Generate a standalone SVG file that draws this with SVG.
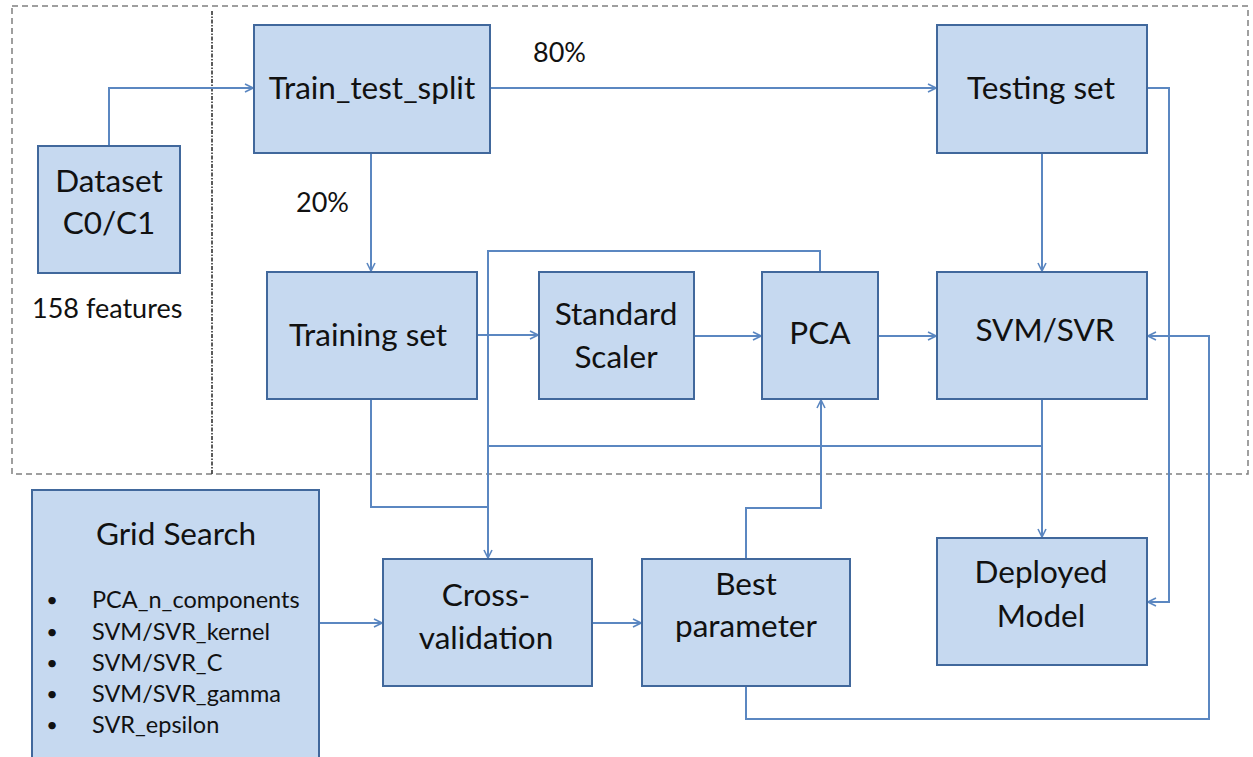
<svg xmlns="http://www.w3.org/2000/svg" width="1253" height="757" viewBox="0 0 1253 757">
  <style>
    .box { fill: #c6d9f0; stroke: #41689c; stroke-width: 2; }
    .lbl { font-family: Lato, "Liberation Sans", sans-serif; font-size: 31.5px; fill: #111; text-anchor: middle; }
    .sm { font-family: Lato, "Liberation Sans", sans-serif; font-size: 27px; fill: #111; }
    .item { font-family: Lato, "Liberation Sans", sans-serif; font-size: 23.5px; fill: #111; }
    .dot { font-family: Lato, "Liberation Sans", sans-serif; font-size: 20px; fill: #111; text-anchor: middle; }
    .wire { fill: none; stroke: #5b87c1; stroke-width: 2; }
    .arr { marker-end: url(#head); }
  </style>
  <defs>
    <marker id="head" viewBox="0 0 10 10" refX="9" refY="5" markerWidth="10" markerHeight="10" markerUnits="userSpaceOnUse" orient="auto">
      <path d="M1,1 L9,5 L1,9" fill="none" stroke="#5b87c1" stroke-width="1.6"/>
    </marker>
  </defs>
  <rect width="1253" height="757" fill="#ffffff"/>

  <!-- frame of the preprocessing stage -->
  <g id="frame">
    <rect x="12" y="6" width="1236" height="468" fill="none" stroke="#808080" stroke-width="1.5" stroke-dasharray="6 4"/>
    <line x1="212" y1="11" x2="212" y2="474" stroke="#333333" stroke-width="1.6" stroke-dasharray="4 1.5 1.5 1.5"/>
  </g>

  <g id="connectors">
    <polyline class="wire arr" points="109,146 109,88 253,88"/>
    <line class="wire arr" x1="490" y1="88" x2="936" y2="88"/>
    <line class="wire arr" x1="371" y1="153" x2="371" y2="271"/>
    <line class="wire arr" x1="1042" y1="153" x2="1042" y2="271"/>
    <polyline class="wire arr" points="1147,88 1169,88 1169,602 1148,602"/>
    <line class="wire arr" x1="477" y1="335" x2="538" y2="335"/>
    <line class="wire arr" x1="694" y1="336" x2="761" y2="336"/>
    <line class="wire arr" x1="878" y1="336" x2="936" y2="336"/>
    <polyline class="wire arr" points="820,272 820,251 488,251 488,558"/>
    <polyline class="wire" points="371,399 371,507 488,507"/>
    <polyline class="wire" points="1042,399 1042,446 488,446"/>
    <line class="wire arr" x1="1042" y1="399" x2="1042" y2="537"/>
    <line class="wire arr" x1="319" y1="623" x2="382" y2="623"/>
    <line class="wire arr" x1="592" y1="623" x2="641" y2="623"/>
    <polyline class="wire arr" points="746,559 746,508 821,508 821,400"/>
    <polyline class="wire arr" points="746,686 746,719 1209,719 1209,336 1148,336"/>
  </g>

  <g id="dataset">
    <rect class="box" x="38" y="146" width="142" height="127"/>
    <text class="lbl" x="109" y="192">Dataset</text>
    <text class="lbl" x="109" y="234">C0/C1</text>
  </g>
  <g id="features-note">
    <text class="sm" x="32" y="318">158 features</text>
  </g>
  <g id="train-test-split">
    <rect class="box" x="254" y="25" width="236" height="128"/>
    <text class="lbl" x="372" y="99">Train_test_split</text>
  </g>
  <g id="pct-80">
    <text class="sm" x="533" y="62">80%</text>
  </g>
  <g id="pct-20">
    <text class="sm" x="296" y="212">20%</text>
  </g>
  <g id="testing-set">
    <rect class="box" x="937" y="25" width="210" height="128"/>
    <text class="lbl" x="1041" y="99">Testing set</text>
  </g>
  <g id="training-set">
    <rect class="box" x="267" y="272" width="210" height="127"/>
    <text class="lbl" x="368" y="346">Training set</text>
  </g>
  <g id="standard-scaler">
    <rect class="box" x="539" y="272" width="155" height="127"/>
    <text class="lbl" x="616" y="325">Standard</text>
    <text class="lbl" x="616" y="368">Scaler</text>
  </g>
  <g id="pca">
    <rect class="box" x="762" y="272" width="116" height="127"/>
    <text class="lbl" x="820" y="344">PCA</text>
  </g>
  <g id="svm-svr">
    <rect class="box" x="937" y="272" width="210" height="127"/>
    <text class="lbl" x="1045" y="341">SVM/SVR</text>
  </g>
  <g id="grid-search">
    <rect class="box" x="32" y="490" width="287" height="272"/>
    <text class="lbl" x="176" y="545">Grid Search</text>
    <text class="dot" x="52" y="607">•</text>
    <text class="item" x="92" y="608">PCA_n_components</text>
    <text class="dot" x="52" y="639">•</text>
    <text class="item" x="92" y="640">SVM/SVR_kernel</text>
    <text class="dot" x="52" y="670">•</text>
    <text class="item" x="92" y="671">SVM/SVR_C</text>
    <text class="dot" x="52" y="701">•</text>
    <text class="item" x="92" y="702">SVM/SVR_gamma</text>
    <text class="dot" x="52" y="732">•</text>
    <text class="item" x="92" y="733">SVR_epsilon</text>
  </g>
  <g id="cross-validation">
    <rect class="box" x="383" y="559" width="209" height="127"/>
    <text class="lbl" x="486" y="606">Cross-</text>
    <text class="lbl" x="486" y="649">validation</text>
  </g>
  <g id="best-parameter">
    <rect class="box" x="642" y="559" width="208" height="127"/>
    <text class="lbl" x="746" y="595">Best</text>
    <text class="lbl" x="746" y="637">parameter</text>
  </g>
  <g id="deployed-model">
    <rect class="box" x="937" y="538" width="210" height="127"/>
    <text class="lbl" x="1041" y="583">Deployed</text>
    <text class="lbl" x="1041" y="627">Model</text>
  </g>
</svg>
